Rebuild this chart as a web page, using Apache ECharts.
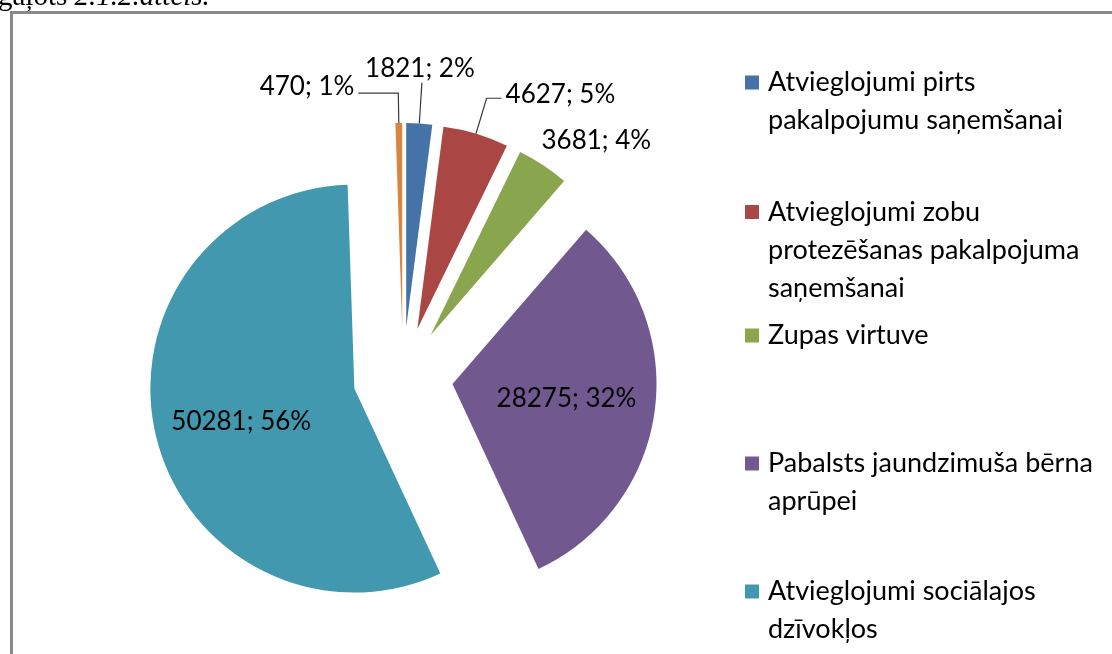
<!DOCTYPE html>
<html><head><meta charset="utf-8">
<script src="https://cdn.jsdelivr.net/npm/echarts@6/dist/echarts.min.js"></script>
<style>html,body{margin:0;padding:0;background:#fff;overflow:hidden}#c{width:1112px;height:654px}</style>
</head><body><div id="c"></div>
<script>
// ---- data ----
const categories = [
  'Atvieglojumi pirts pakalpojumu saņemšanai',
  'Atvieglojumi zobu protezēšanas pakalpojuma saņemšanai',
  'Zupas virtuve',
  'Pabalsts jaundzimuša bērna aprūpei',
  'Atvieglojumi sociālajos dzīvokļos',
  'Citi atvieglojumi'
];
const legendLines = [
  ['Atvieglojumi pirts', 'pakalpojumu saņemšanai'],
  ['Atvieglojumi zobu', 'protezēšanas pakalpojuma', 'saņemšanai'],
  ['Zupas virtuve'],
  ['Pabalsts jaundzimuša bērna', 'aprūpei'],
  ['Atvieglojumi sociālajos', 'dzīvokļos']
];
const values = [1821, 4627, 3681, 28275, 50281, 470];
const colors = ['#4572A7', '#AA4643', '#89A54E', '#71588F', '#4198AF', '#DB843D'];
const captionText = ['gaļots ', '2.1.2.attēls.'];

// ---- chart ----
const chart = echarts.init(document.getElementById('c'), null, {renderer: 'canvas'});
const FONT = 'Lato';
const LH = 38;
const labelPos = ['outside', 'outside', 'outside', 'inside', 'inside', 'outside'];
const lineCfg = [
  {show: true, length: 41, length2: 0},
  {show: true, length: 37, length2: 15},
  {show: false, length: 28, length2: 0},
  {show: false},
  {show: false},
  {show: true, length: 30, length2: 40}
];
const nudge = [null, [0, -4], [-21, -1], [10, 0], [-11, 9], [0, -6]];

const data = values.map((v, i) => ({
  name: categories[i],
  value: v,
  selected: true,
  itemStyle: {color: colors[i], borderWidth: 0},
  select: {itemStyle: {color: colors[i], borderWidth: 0}},
  label: {position: labelPos[i]},
  labelLine: lineCfg[i]
}));

const legendCenters = [82.5, 212, 335.5, 463.5, 591.5];
const legends = legendLines.map((lines, i) => {
  const n = lines.length;
  return {
    data: [categories[i]],
    orient: 'vertical',
    left: 745,
    top: legendCenters[i] - (2 * n - 1) * LH / 2,
    padding: 0,
    icon: 'rect',
    itemWidth: 14,
    itemHeight: 14,
    selectedMode: false,
    formatter: () => '\n'.repeat(n - 1) + lines.join('\n'),
    textStyle: {
      fontFamily: FONT, fontSize: 27, color: '#000', lineHeight: LH,
      padding: [0, 0, 0, 4],
      backgroundColor: 'rgba(255,255,255,0)'
    }
  };
});

chart.setOption({
  animation: false,
  color: colors,
  legend: legends,
  graphic: [
    {type: 'rect', shape: {x: 11.5, y: 12.5, width: 1200, height: 700}, style: {fill: 'none', stroke: '#8a8a8a', lineWidth: 3}, silent: true},
    {type: 'text', x: -2, y: 12, silent: true,
     style: {text: '{a|' + captionText[0] + '}{b|' + captionText[1] + '}', verticalAlign: 'bottom',
       rich: {a: {fontFamily: 'Liberation Serif', fontSize: 29, fill: '#000'},
              b: {fontFamily: 'Liberation Serif', fontSize: 29, fontStyle: 'italic', fill: '#000'}}}}
  ],
  series: [{
    type: 'pie',
    center: [403, 377],
    radius: 204,
    startAngle: 90,
    clockwise: true,
    selectedMode: 'multiple',
    selectedOffset: 50,
    avoidLabelOverlap: false,
    percentPrecision: 0,
    emphasis: {disabled: true},
    label: {
      show: true,
      fontFamily: FONT, fontSize: 26, color: '#000',
      distanceToLabelLine: 4,
      formatter: p => p.value + '; ' + p.percent + '%'
    },
    labelLine: {lineStyle: {color: '#3a3a3a', width: 1.2}},
    labelLayout: function (params) {
      const i = params.dataIndex;
      if (i === 0) {
        return {dx: -params.labelRect.width / 2 - 6, dy: -params.labelRect.height / 2 - 1};
      }
      const n = nudge[i];
      return n ? {dx: n[0], dy: n[1]} : {};
    },
    data: data
  }]
});
</script>
</body></html>
